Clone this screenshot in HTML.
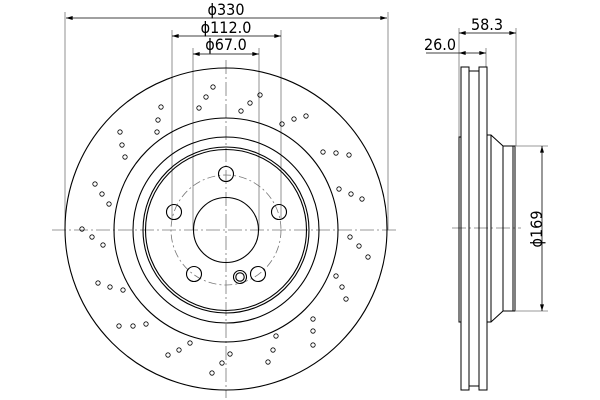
<!DOCTYPE html>
<html><head><meta charset="utf-8"><style>
html,body{margin:0;padding:0;background:#fff;width:600px;height:400px;overflow:hidden}
svg{display:block}
text{font-family:"DejaVu Sans Condensed","Liberation Sans",sans-serif;font-size:16px;fill:#000}
</style></head><body>
<svg width="600" height="400" viewBox="0 0 600 400" xmlns="http://www.w3.org/2000/svg">
<defs>
<marker id="a" viewBox="0 0 10 6" refX="10" refY="3" markerWidth="8" markerHeight="4" orient="auto-start-reverse" markerUnits="userSpaceOnUse"><path d="M0,0L10,3L0,6z" fill="#000"/></marker>
</defs>
<g stroke="#777" stroke-width="0.8" fill="none">
<line x1="226" y1="60" x2="226" y2="398" stroke-dasharray="14,3,2,3"/>
<line x1="52" y1="230" x2="398" y2="230" stroke-dasharray="14,3,2,3"/>
<circle cx="226" cy="230" r="55" stroke-dasharray="8,3,2,3"/>
<line x1="65" y1="12" x2="65" y2="230"/>
<line x1="388" y1="12" x2="388" y2="230"/>
<line x1="172" y1="30" x2="172" y2="218"/>
<line x1="281" y1="30" x2="281" y2="218"/>
<line x1="193" y1="48" x2="193" y2="230"/>
<line x1="259" y1="48" x2="259" y2="230"/>
<line x1="459" y1="28" x2="459" y2="137"/>
<line x1="486" y1="48" x2="486" y2="67"/>
<line x1="516" y1="28" x2="516" y2="146"/>
<line x1="516" y1="146" x2="548" y2="146"/>
<line x1="516" y1="311" x2="548" y2="311"/>
<line x1="452" y1="228" x2="521" y2="228" stroke-dasharray="14,3,2,3"/>
</g>
<g stroke="#000" stroke-width="0.8" fill="none">
<line x1="66" y1="18" x2="387" y2="18" marker-start="url(#a)" marker-end="url(#a)"/>
<line x1="172" y1="36" x2="281" y2="36" marker-start="url(#a)" marker-end="url(#a)"/>
<line x1="193" y1="54" x2="259" y2="54" marker-start="url(#a)" marker-end="url(#a)"/>
<line x1="459" y1="33" x2="516" y2="33" marker-start="url(#a)" marker-end="url(#a)"/>
<line x1="426" y1="53" x2="459" y2="53"/>
<line x1="459" y1="53" x2="486" y2="53" marker-start="url(#a)" marker-end="url(#a)"/>
<line x1="542" y1="146" x2="542" y2="311" marker-start="url(#a)" marker-end="url(#a)"/>
</g>
<text x="226" y="18" text-anchor="middle" dy="-3">ϕ330</text>
<text x="226" y="36" text-anchor="middle" dy="-3">ϕ112.0</text>
<text x="226" y="54" text-anchor="middle" dy="-4">ϕ67.0</text>
<text x="487" y="33" text-anchor="middle" dy="-3">58.3</text>
<text x="440" y="53" text-anchor="middle" dy="-3">26.0</text>
<text transform="translate(537,229) rotate(-90)" text-anchor="middle" dy="5">ϕ169</text>
<g stroke="#000" stroke-width="1.1" fill="none">
<circle cx="226" cy="229" r="161"/>
<circle cx="226" cy="230" r="112"/>
<circle cx="226" cy="230" r="93"/>
<circle cx="226" cy="230" r="83"/>
<circle cx="226" cy="230" r="80.5"/>
<circle cx="226" cy="230" r="32.5"/>
<circle cx="226" cy="174" r="7.5"/>
<circle cx="174" cy="212" r="7.5"/>
<circle cx="279" cy="212" r="7.5"/>
<circle cx="194" cy="274" r="7.5"/>
<circle cx="258" cy="274" r="7.5"/>
<circle cx="240" cy="277" r="6.5"/>
<circle cx="240" cy="277" r="4.2"/>
</g>
<g stroke="#000" stroke-width="0.8" fill="none">
<circle cx="213" cy="87" r="2.2"/><circle cx="206" cy="97" r="2.2"/><circle cx="199" cy="108" r="2.2"/>
<circle cx="161" cy="107" r="2.2"/><circle cx="158" cy="120" r="2.2"/><circle cx="157" cy="132" r="2.2"/>
<circle cx="120" cy="132" r="2.2"/><circle cx="122" cy="145" r="2.2"/><circle cx="125" cy="157" r="2.2"/>
<circle cx="95" cy="184" r="2.2"/><circle cx="102" cy="194" r="2.2"/><circle cx="109" cy="204" r="2.2"/>
<circle cx="241" cy="111" r="2.2"/><circle cx="250" cy="103" r="2.2"/><circle cx="260" cy="95" r="2.2"/>
<circle cx="282" cy="124" r="2.2"/><circle cx="294" cy="119" r="2.2"/><circle cx="306" cy="116" r="2.2"/>
<circle cx="323" cy="152" r="2.2"/><circle cx="336" cy="153" r="2.2"/><circle cx="349" cy="155" r="2.2"/>
<circle cx="339" cy="189" r="2.2"/><circle cx="351" cy="194" r="2.2"/><circle cx="362" cy="199" r="2.2"/>
<circle cx="82" cy="229" r="2.2"/><circle cx="92" cy="237" r="2.2"/><circle cx="103" cy="245" r="2.2"/>
<circle cx="98" cy="283" r="2.2"/><circle cx="110" cy="287" r="2.2"/><circle cx="123" cy="290" r="2.2"/>
<circle cx="119" cy="326" r="2.2"/><circle cx="133" cy="326" r="2.2"/><circle cx="146" cy="324" r="2.2"/>
<circle cx="168" cy="355" r="2.2"/><circle cx="179" cy="350" r="2.2"/><circle cx="190" cy="343" r="2.2"/>
<circle cx="212" cy="373" r="2.2"/><circle cx="222" cy="363" r="2.2"/><circle cx="230" cy="354" r="2.2"/>
<circle cx="268" cy="362" r="2.2"/><circle cx="273" cy="350" r="2.2"/><circle cx="276" cy="336" r="2.2"/>
<circle cx="313" cy="345" r="2.2"/><circle cx="313" cy="331" r="2.2"/><circle cx="313" cy="319" r="2.2"/>
<circle cx="336" cy="276" r="2.2"/><circle cx="342" cy="287" r="2.2"/><circle cx="346" cy="299" r="2.2"/>
<circle cx="350" cy="237" r="2.2"/><circle cx="359" cy="246" r="2.2"/><circle cx="368" cy="257" r="2.2"/>
</g>
<g stroke="#000" stroke-width="1" fill="none">
<rect x="461" y="67" width="8" height="323"/>
<rect x="479" y="67" width="8" height="323"/>
<line x1="469" y1="71" x2="479" y2="71"/>
<line x1="469" y1="386" x2="479" y2="386"/>
<path d="M461,137 H459 V322 H461"/>
<path d="M487,135 H491 L503,146 V311 L491,322 H487"/>
<line x1="491" y1="135" x2="491" y2="322"/>
<path d="M503,146 H515 V311 H503"/>
<line x1="513" y1="146" x2="513" y2="311"/>
</g>
</svg>
</body></html>
